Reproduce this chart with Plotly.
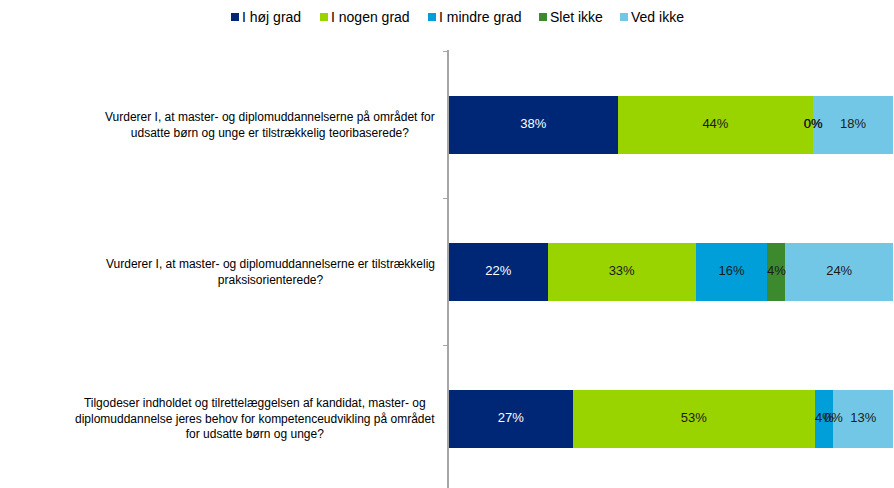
import numpy as np
import plotly.graph_objects as go

categories = [
    "Vurderer I, at master- og diplomuddannelserne på området for<br>udsatte børn og unge er tilstrækkelig teoribaserede?",
    "Vurderer I, at master- og diplomuddannelserne er tilstrækkelig<br>praksisorienterede?",
    "Tilgodeser indholdet og tilrettelæggelsen af kandidat, master- og<br>diplomuddannelse jeres behov for kompetenceudvikling på området<br>for udsatte børn og unge?",
]
series_names = ["I høj grad", "I nogen grad", "I mindre grad", "Slet ikke", "Ved ikke"]
hoej_grad = [38, 22, 27]
nogen_grad = [44, 33, 53]
mindre_grad = [0, 16, 4]
slet_ikke = [0, 4, 0]
ved_ikke = [18, 24, 13]

values = [hoej_grad, nogen_grad, mindre_grad, slet_ikke, ved_ikke]
colors = ["#002776", "#99D300", "#009FDA", "#3D8A2E", "#72C7E6"]
text_colors = ["#FFFFFF", "#1A1A1A", "#1A1A1A", "#1A1A1A", "#1A1A1A"]

# legend layout (pixel left edge of each legend square)
legend_px = [231, 320, 428, 539, 620]

W, H = 894, 488
ML, MR, MT, MB = 449, 1, 50, 0
PW, PH = W - ML - MR, H - MT - MB

ypos = list(range(len(categories)))
arr = np.array(values, dtype=float)
norm = arr / arr.sum(axis=0) * 100
cum = np.cumsum(norm, axis=0)
mid = cum - norm / 2

FONT = "Liberation Sans, Arial, sans-serif"

fig = go.Figure()
for i, name in enumerate(series_names):
    fig.add_trace(go.Bar(
        x=values[i], y=ypos, name=name, orientation="h",
        marker=dict(color=colors[i], line=dict(width=0)),
        width=0.4, hoverinfo="skip", showlegend=False,
    ))
for i, name in enumerate(series_names):
    fig.add_trace(go.Scatter(
        x=mid[i], y=ypos, mode="text",
        text=[f"{v}%" for v in values[i]],
        textfont=dict(family=FONT, size=13, color=text_colors[i]),
        showlegend=False, hoverinfo="skip",
    ))
# dummy trace to activate yaxis2 (boundary tick marks)
fig.add_trace(go.Scatter(x=[None], y=[None], yaxis="y2", showlegend=False, hoverinfo="skip"))

fig.update_layout(
    barmode="stack", barnorm="percent",
    width=W, height=H,
    margin=dict(l=ML, r=MR, t=MT, b=MB, autoexpand=False),
    paper_bgcolor="white", plot_bgcolor="white",
    font=dict(family=FONT, size=12, color="#000000"),
    xaxis=dict(range=[0, 100], visible=False, fixedrange=True),
    yaxis=dict(range=[2.47, -0.51], showticklabels=False, ticks="", showgrid=False,
               zeroline=False, showline=True, linecolor="#A6A6A6", linewidth=1.5),
    yaxis2=dict(overlaying="y", range=[2.47, -0.51], tickvals=[-0.5, 0.5, 1.5],
                ticks="outside", ticklen=5, tickcolor="#A6A6A6", tickwidth=1,
                showticklabels=False, showgrid=False, zeroline=False, side="left"),
    showlegend=False,
)

# category labels
for i, cat in enumerate(categories):
    fig.add_annotation(
        x=0, xref="paper", y=ypos[i], yref="y", text=cat, showarrow=False,
        xanchor="right", align="center", xshift=-12,
        font=dict(family=FONT, size=12, color="#000000"),
    )

# legend (squares + labels) in the top margin
def px_to_paper_x(px):
    return (px - ML) / PW

def py_to_paper_y(py):
    return (H - MB - py) / PH

ly = 17
sq = 8
for i, name in enumerate(series_names):
    x0 = legend_px[i]
    fig.add_shape(
        type="rect", xref="paper", yref="paper",
        x0=px_to_paper_x(x0), x1=px_to_paper_x(x0 + sq),
        y0=py_to_paper_y(ly + sq / 2), y1=py_to_paper_y(ly - sq / 2),
        fillcolor=colors[i], line=dict(width=0),
    )
    fig.add_annotation(
        x=px_to_paper_x(x0 + sq + 1), xref="paper", y=py_to_paper_y(ly), yref="paper",
        text=name, showarrow=False, xanchor="left", yanchor="middle",
        font=dict(family=FONT, size=14, color="#000000"),
    )

fig.write_html("out.html", config={"displayModeBar": False},
               post_script="document.body.style.margin='0';")
